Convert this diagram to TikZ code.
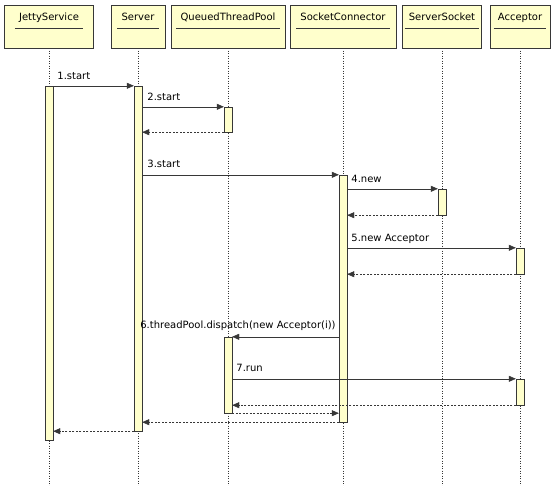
\documentclass[tikz,border=0pt]{standalone}
\usepackage{fontspec}
\setmainfont{DejaVu Sans}
\usetikzlibrary{arrows.meta}
\definecolor{noteYellow}{RGB}{255,255,204}
\definecolor{lineGray}{RGB}{55,55,55}

\begin{document}
\begin{tikzpicture}[x=1pt,y=-1pt,
    head/.style={draw=lineGray, fill=noteYellow, minimum height=43pt, inner sep=0pt},
    headtext/.style={inner sep=2pt, anchor=base, font=\fontsize{10}{12}\selectfont},
    bar/.style={draw=lineGray, fill=noteYellow, minimum width=8pt, inner sep=0pt},
    life/.style={lineGray, dash pattern=on 1pt off 1.5pt},
    msg/.style={lineGray, -{Triangle[length=7pt,width=6pt]}},
    ret/.style={msg, dash pattern=on 2pt off 1.5pt},
    lbl/.style={font=\fontsize{10}{12}\selectfont, inner sep=0pt, anchor=base west}]
  \fill[white] (0,0) rectangle (553,486);
  \useasboundingbox (0,0) rectangle (553,486);
  \coordinate (bottom) at (0,486);

  % heads and lifelines
  \foreach \n/\x/\w/\t in {js/49/89/JettyService, sv/138/54/Server,
      qtp/228/114/QueuedThreadPool, sc/343/106/SocketConnector,
      ss/442/79/ServerSocket, ac/520/60/Acceptor} {
    \node[head, minimum width=\w] (\n) at (\x,26.5) {};
    \node[headtext] (\n-t) at (\x,21) {\t};
    \draw[lineGray] ([xshift=-2pt,yshift=-7pt]\n-t.base west) -- ([xshift=2pt,yshift=-7pt]\n-t.base east);
    \draw[life] (\n.south) -- (\n.south |- bottom);
  }

  % activations
  \node[bar, minimum height=354] (js-a) at (49,263) {};
  \node[bar, minimum height=345] (sv-a) at (138,258.5) {};
  \node[bar, minimum height=25] (qtp-a1) at (228,119.5) {};
  \node[bar, minimum height=247] (sc-a) at (343,298.5) {};
  \node[bar, minimum height=26] (ss-a) at (442,202) {};
  \node[bar, minimum height=26] (ac-a1) at (520,261) {};
  \node[bar, minimum height=76] (qtp-a2) at (228,375) {};
  \node[bar, minimum height=26] (ac-a2) at (520,392) {};

  % messages
  \draw[msg] (js-a.north east) -- (sv-a.north west);
  \node[lbl] (m1) at ([xshift=4pt,yshift=6pt]js-a.north east) {1.start};
  \draw[msg] (qtp-a1.north west -| sv-a.east) -- (qtp-a1.north west);
  \node[lbl] (m2) at ([xshift=5pt,yshift=6pt]qtp-a1.north west -| sv-a.east) {2.start};
  \draw[ret] (qtp-a1.south west) -- (qtp-a1.south west -| sv-a.east);
  \draw[msg] (sc-a.north west -| sv-a.east) -- (sc-a.north west);
  \node[lbl] (m3) at ([xshift=5pt,yshift=7pt]sc-a.north west -| sv-a.east) {3.start};
  \draw[msg] (ss-a.north west -| sc-a.east) -- (ss-a.north west);
  \node[lbl] (m4) at ([xshift=4pt,yshift=6pt]ss-a.north west -| sc-a.east) {4.new};
  \draw[ret] (ss-a.south west) -- (ss-a.south west -| sc-a.east);
  \draw[msg] (ac-a1.north west -| sc-a.east) -- (ac-a1.north west);
  \node[lbl] (m5) at ([xshift=4pt,yshift=6pt]ac-a1.north west -| sc-a.east) {5.new Acceptor};
  \draw[ret] (ac-a1.south west) -- (ac-a1.south west -| sc-a.east);
  \draw[msg] (qtp-a2.north east -| sc-a.west) -- (qtp-a2.north east);
  \node[lbl, anchor=base east] (m6) at ([xshift=-3pt,yshift=8pt]qtp-a2.north east -| sc-a.west) {6.threadPool.dispatch(new Acceptor(i))};
  \draw[msg] (ac-a2.north west -| qtp-a2.east) -- (ac-a2.north west);
  \node[lbl] (m7) at ([xshift=4pt,yshift=7pt]ac-a2.north west -| qtp-a2.east) {7.run};
  \draw[ret] (ac-a2.south west) -- (ac-a2.south west -| qtp-a2.east);
  \draw[ret] (qtp-a2.south east) -- (qtp-a2.south east -| sc-a.west);
  \draw[ret] (sc-a.south west) -- (sc-a.south west -| sv-a.east);
  \draw[ret] (sv-a.south west) -- (sv-a.south west -| js-a.east);
\end{tikzpicture}
\end{document}
